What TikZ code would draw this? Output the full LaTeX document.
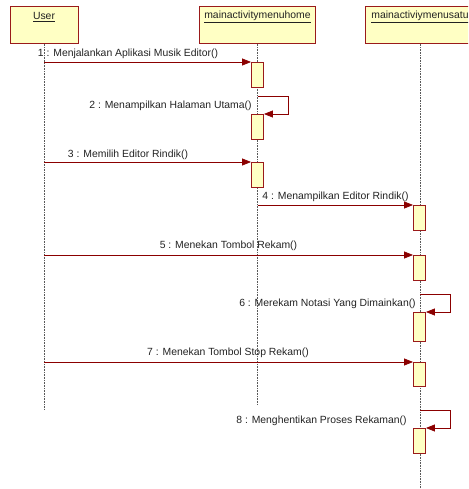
\documentclass[tikz,border=0pt]{standalone}
\usepackage{fontspec}
\setmainfont{Liberation Sans}
\usetikzlibrary{arrows.meta}
\definecolor{boxfill}{HTML}{FFFFC4}
\definecolor{boxline}{HTML}{9A1A1A}
\definecolor{msgcol}{HTML}{8B0000}
\definecolor{txtcol}{HTML}{222222}
\tikzset{
  hdr/.style={draw=boxline, fill=boxfill, line width=0.9pt, minimum width=68pt, minimum height=37pt, anchor=north, inner sep=0pt},
  hdrtxt/.style={font=\fontsize{10.4}{12}\selectfont, text=txtcol, inner sep=0pt},
  life/.style={densely dotted, draw=black!65, line width=0.6pt},
  act/.style={draw=boxline, fill=boxfill, line width=0.9pt, minimum width=12pt, anchor=north, inner sep=0pt},
  msg/.style={draw=msgcol, line width=0.8pt, -{Triangle[length=9pt,width=7pt]}},
  lbl/.style={font=\fontsize{10.4}{12}\selectfont, text=txtcol, inner sep=0pt}
}
\begin{document}
\begin{tikzpicture}[x=1pt,y=-1pt]
\useasboundingbox (0,0) rectangle (468,489);
\begin{scope}
\clip (0,0) rectangle (468,489);
% headers
\node[hdr] (user) at (44,6) {};
\node[hdr, minimum width=116pt] (home) at (257.5,6) {};
\node[hdr, minimum width=110pt] (satu) at (420,6) {};
\node[hdrtxt] (usert) at (44,17) {\underline{User}};
\node[hdrtxt] (homet) at (257.5,17) {\underline{mainactivitymenuhome}};
\node[hdrtxt] (satut) at (420,17) {\underline{mainactiviymenusatu}};
% lifeline ends
\coordinate (userend) at (44,410);
\coordinate (homeend) at (257.5,405);
\coordinate (satuend) at (420,489);
\draw[life] (user.south) -- (userend);
\draw[life] (home.south) -- (homeend);
\draw[life] (satu.south) -- (satuend);
% activations
\node[act, minimum height=25pt] (a1) at (257.5,62) {};
\node[act, minimum height=25pt] (a2) at (257.5,114) {};
\node[act, minimum height=25pt] (a3) at (257.5,162) {};
\node[act, minimum height=25pt] (a4) at (419.5,205) {};
\node[act, minimum height=25pt] (a5) at (419.5,255) {};
\node[act, minimum height=29pt] (a6) at (419.5,312) {};
\node[act, minimum height=24pt] (a7) at (419.5,362) {};
\node[act, minimum height=25pt] (a8) at (419.5,428) {};
% message start points
\coordinate (m1s) at (44,62);
\coordinate (m2s) at (257.5,96);
\coordinate (m3s) at (44,162);
\coordinate (m4s) at (257.5,205);
\coordinate (m5s) at (44,255);
\coordinate (m6s) at (420,294);
\coordinate (m7s) at (44,362);
\coordinate (m8s) at (420,410);
% messages
\draw[msg] (m1s) -- (a1.north west);
\draw[msg] (m2s) -- ++(30.5,0) |- (a2.north east);
\draw[msg] (m3s) -- (a3.north west);
\draw[msg] (m4s) -- (a4.north west);
\draw[msg] (m5s) -- (a5.north west);
\draw[msg] (m6s) -- ++(30,0) |- (a6.north east);
\draw[msg] (m7s) -- (a7.north west);
\draw[msg] (m8s) -- ++(30,0) |- (a8.north east);
% labels
\node[lbl] (l1) at (128,54) {1 : Menjalankan Aplikasi Musik Editor()};
\node[lbl] (l2) at (170.5,106) {2 : Menampilkan Halaman Utama()};
\node[lbl] (l3) at (128,155) {3 : Memilih Editor Rindik()};
\node[lbl] (l4) at (335.5,197) {4 : Menampilkan Editor Rindik()};
\node[lbl] (l5) at (228.5,246) {5 : Menekan Tombol Rekam()};
\node[lbl] (l6) at (327.5,304) {6 : Merekam Notasi Yang Dimainkan()};
\node[lbl] (l7) at (228,353) {7 : Menekan Tombol Stop Rekam()};
\node[lbl] (l8) at (321.5,421) {8 : Menghentikan Proses Rekaman()};
\end{scope}
\end{tikzpicture}
\end{document}
